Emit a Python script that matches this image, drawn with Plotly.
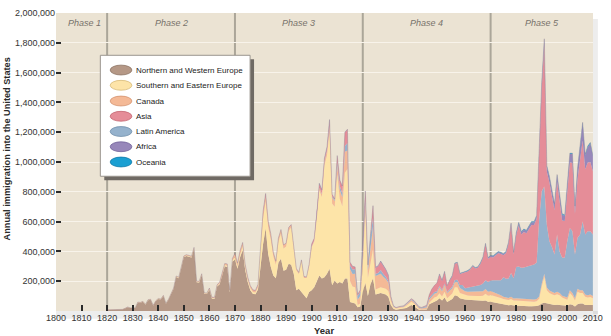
import plotly.graph_objects as go

years = list(range(1820, 2011))

# Annual immigration by region of origin, in thousands
nw_europe = [
    7, 8, 6, 5, 6, 9, 10, 16, 25, 20,
    21, 20, 57, 55, 62, 42, 72, 75, 35, 65,
    81, 77, 101, 49, 75, 110, 149, 228, 220, 289,
    360, 369, 362, 359, 417, 193, 192, 241, 116, 114,
    142, 82, 83, 165, 180, 232, 300, 296, 125, 330,
    345, 283, 360, 410, 275, 195, 140, 115, 112, 145,
    300, 450, 556, 383, 297, 238, 220, 325, 350, 270,
    277, 317, 310, 250, 140, 150, 127, 106, 86, 127,
    139, 160, 194, 238, 218, 227, 250, 284, 172, 205,
    185, 194, 185, 218, 218, 61, 55, 50, 25, 30,
    130, 190, 100, 180, 220, 110, 115, 120, 115, 110,
    95, 40, 15, 9, 11, 13, 13, 20, 30, 40,
    32, 20, 8, 6, 7, 10, 45, 55, 65, 70,
    86, 70, 90, 60, 70, 80, 105, 100, 85, 80,
    78, 76, 74, 72, 70, 70, 68, 68, 70, 62,
    62, 58, 55, 52, 48, 42, 40, 38, 40, 36,
    35, 35, 33, 32, 32, 32, 32, 32, 34, 38,
    50, 55, 50, 45, 42, 40, 42, 40, 35, 32,
    35, 45, 42, 30, 45, 50, 50, 40, 40, 42,
    40,
]
se_europe = [
    0, 0, 0, 0, 0, 0, 0, 1, 1, 1,
    1, 1, 1, 1, 1, 1, 1, 1, 1, 1,
    1, 1, 1, 1, 1, 1, 2, 3, 3, 3,
    3, 3, 3, 3, 4, 3, 3, 4, 3, 3,
    5, 4, 4, 4, 5, 6, 8, 8, 6, 10,
    15, 15, 20, 25, 20, 15, 15, 12, 12, 15,
    115, 170, 180, 180, 185, 130, 90, 140, 170, 150,
    156, 220, 252, 176, 133, 99, 205, 116, 135, 174,
    289, 307, 423, 572, 547, 751, 795, 921, 550, 494,
    732, 560, 518, 710, 735, 141, 109, 110, 15, 20,
    180, 470, 123, 130, 195, 35, 35, 40, 40, 40,
    40, 25, 10, 7, 9, 11, 12, 15, 20, 22,
    18, 12, 5, 3, 3, 4, 10, 20, 25, 28,
    33, 28, 40, 25, 32, 38, 55, 60, 35, 35,
    28, 28, 28, 28, 28, 30, 32, 35, 45, 40,
    45, 45, 45, 42, 40, 38, 36, 35, 40, 34,
    35, 34, 32, 30, 30, 30, 30, 30, 32, 45,
    115, 175, 90, 75, 70, 65, 70, 65, 55, 50,
    40, 75, 60, 40, 85, 70, 70, 55, 50, 52,
    45,
]
canada = [
    1, 1, 1, 1, 1, 1, 1, 1, 1, 1,
    1, 1, 2, 2, 2, 2, 3, 3, 2, 2,
    2, 2, 3, 2, 3, 3, 3, 4, 4, 5,
    6, 6, 6, 6, 6, 4, 4, 5, 3, 3,
    6, 5, 4, 6, 7, 9, 10, 10, 7, 11,
    25, 20, 22, 22, 15, 12, 12, 12, 10, 15,
    35, 40, 35, 35, 32, 25, 22, 23, 25, 22,
    20, 20, 15, 12, 10, 8, 8, 6, 5, 6,
    5, 5, 10, 15, 20, 25, 30, 35, 40, 40,
    60, 60, 60, 140, 125, 80, 85, 90, 35, 50,
    70, 60, 50, 130, 150, 90, 90, 90, 75, 65,
    55, 20, 6, 4, 5, 6, 6, 9, 11, 11,
    11, 11, 9, 8, 10, 12, 22, 25, 25, 25,
    40, 35, 45, 35, 38, 35, 33, 35, 35, 30,
    26, 26, 28, 30, 30, 30, 30, 30, 32, 28,
    28, 25, 22, 20, 18, 15, 15, 15, 15, 14,
    15, 15, 15, 15, 15, 15, 15, 15, 15, 15,
    18, 20, 18, 18, 17, 15, 17, 15, 12, 12,
    15, 19, 18, 15, 20, 20, 19, 15, 15, 16,
    15,
]
latin_america = [
    0, 0, 0, 0, 0, 0, 0, 0, 0, 0,
    0, 0, 0, 0, 0, 0, 0, 0, 0, 0,
    0, 0, 0, 0, 0, 0, 0, 0, 0, 0,
    0, 0, 0, 0, 0, 0, 0, 0, 0, 0,
    0, 0, 0, 0, 0, 0, 0, 0, 0, 0,
    0, 0, 0, 0, 0, 0, 0, 0, 0, 0,
    0, 0, 0, 0, 0, 0, 0, 0, 0, 0,
    0, 0, 0, 0, 0, 0, 0, 0, 0, 0,
    1, 1, 2, 2, 3, 3, 3, 5, 6, 8,
    25, 25, 25, 40, 50, 25, 30, 30, 25, 30,
    35, 25, 25, 65, 60, 15, 15, 25, 20, 15,
    12, 5, 3, 2, 2, 3, 3, 4, 5, 6,
    6, 6, 5, 5, 6, 8, 12, 12, 12, 10,
    10, 8, 10, 8, 10, 12, 15, 15, 20, 30,
    20, 25, 30, 35, 38, 40, 45, 52, 60, 65,
    70, 78, 85, 92, 100, 132, 125, 130, 160, 135,
    210, 215, 210, 215, 220, 225, 230, 235, 245, 520,
    620, 585, 420, 330, 300, 260, 385, 280, 255, 265,
    379, 418, 415, 295, 341, 373, 461, 403, 430, 425,
    413,
]
asia = [
    0, 0, 0, 0, 0, 0, 0, 0, 0, 0,
    0, 0, 0, 0, 0, 0, 0, 0, 0, 0,
    0, 0, 0, 0, 0, 0, 0, 0, 0, 0,
    0, 0, 0, 0, 0, 0, 0, 0, 0, 0,
    1, 1, 1, 1, 1, 1, 1, 2, 1, 2,
    2, 3, 3, 3, 3, 5, 3, 3, 4, 3,
    7, 9, 18, 5, 5, 2, 2, 2, 2, 2,
    2, 3, 3, 2, 3, 2, 3, 3, 3, 5,
    15, 15, 20, 25, 20, 15, 15, 30, 15, 5,
    40, 40, 50, 90, 90, 20, 20, 15, 11, 11,
    15, 60, 12, 15, 80, 40, 45, 55, 52, 45,
    35, 6, 2, 1, 2, 2, 2, 2, 2, 4,
    4, 3, 2, 2, 3, 4, 20, 35, 44, 55,
    74, 61, 76, 39, 54, 69, 109, 112, 74, 81,
    107, 110, 118, 135, 120, 121, 141, 170, 239, 156,
    157, 153, 167, 182, 177, 147, 172, 231, 322, 162,
    211, 277, 224, 238, 224, 244, 271, 266, 291, 442,
    695, 952, 356, 395, 334, 297, 355, 351, 251, 245,
    322, 441, 458, 272, 397, 518, 544, 438, 461, 465,
    425,
]
africa = [
    0, 0, 0, 0, 0, 0, 0, 0, 0, 0,
    0, 0, 0, 0, 0, 0, 0, 0, 0, 0,
    0, 0, 0, 0, 0, 0, 0, 0, 0, 0,
    0, 0, 0, 0, 0, 0, 0, 0, 0, 0,
    0, 0, 0, 0, 0, 0, 0, 0, 0, 0,
    0, 0, 0, 0, 0, 0, 0, 0, 0, 0,
    0, 0, 0, 0, 0, 0, 0, 0, 0, 0,
    0, 0, 0, 0, 0, 0, 0, 0, 0, 0,
    0, 0, 0, 5, 5, 5, 8, 10, 0, 0,
    1, 1, 1, 2, 2, 1, 1, 1, 0, 0,
    1, 0, 0, 3, 2, 4, 4, 5, 5, 5,
    5, 1, 0, 0, 0, 0, 0, 0, 0, 0,
    0, 0, 0, 0, 0, 0, 0, 0, 0, 0,
    5, 3, 4, 2, 3, 3, 4, 4, 3, 4,
    4, 4, 4, 4, 4, 4, 5, 5, 6, 6,
    8, 8, 8, 8, 8, 8, 8, 10, 10, 10,
    14, 15, 16, 16, 17, 18, 18, 18, 20, 25,
    33, 35, 35, 36, 36, 38, 42, 42, 40, 36,
    45, 55, 60, 48, 65, 85, 115, 95, 105, 125,
    100,
]
oceania = [
    0, 0, 0, 0, 0, 0, 0, 0, 0, 0,
    0, 0, 0, 0, 0, 0, 0, 0, 0, 0,
    0, 0, 0, 0, 0, 0, 0, 0, 0, 0,
    0, 0, 0, 0, 0, 0, 0, 0, 0, 0,
    0, 0, 0, 0, 0, 0, 0, 0, 0, 0,
    0, 0, 0, 0, 0, 0, 0, 0, 0, 0,
    0, 0, 0, 0, 0, 0, 0, 0, 0, 0,
    0, 0, 0, 0, 0, 0, 0, 0, 0, 0,
    0, 0, 0, 0, 0, 0, 0, 0, 0, 0,
    0, 0, 0, 0, 0, 0, 0, 0, 0, 0,
    0, 0, 0, 0, 0, 0, 0, 0, 0, 0,
    0, 0, 0, 0, 0, 0, 0, 0, 0, 0,
    0, 0, 0, 0, 0, 0, 0, 0, 0, 0,
    1, 1, 1, 1, 1, 1, 1, 1, 1, 1,
    2, 2, 2, 2, 2, 2, 2, 2, 2, 2,
    3, 3, 3, 3, 3, 3, 3, 3, 3, 3,
    4, 4, 4, 4, 4, 4, 4, 4, 4, 5,
    5, 5, 5, 5, 5, 5, 5, 5, 5, 5,
    5, 6, 6, 4, 5, 6, 7, 6, 6, 6,
    5,
]

series_names = ["Northern and Western Europe", "Southern and Eastern Europe", "Canada",
                "Latin America", "Asia", "Africa", "Oceania"]
series_values = [nw_europe, se_europe, canada, latin_america, asia, africa, oceania]
series_colors = ["#b59886", "#fde4a8", "#f4b996", "#95b2cd", "#e58d98", "#9787ba", "#1a9fd2"]

legend_names = ["Northern and Western Europe", "Southern and Eastern Europe", "Canada",
                "Asia", "Latin America", "Africa", "Oceania"]
legend_colors = ["#b59886", "#fde4a8", "#f4b996", "#e58d98", "#95b2cd", "#9787ba", "#1a9fd2"]
legend_edges = ["#8c7262", "#d8bb7a", "#d49370", "#c46671", "#6f8eab", "#72639a", "#0f7aa8"]

phase_labels = ["Phase 1", "Phase 2", "Phase 3", "Phase 4", "Phase 5"]
phase_centers = [1811, 1845, 1895, 1945, 1990]
phase_bounds = [1820, 1870, 1920, 1970]

x_ticks = list(range(1800, 2011, 10))
y_ticks = list(range(200000, 2000001, 200000))
y_ticktext = [f"{v:,}" for v in y_ticks]

FONT = "Liberation Sans, Arial, sans-serif"

fig = go.Figure()
n_series = len(series_names)
for i, (name, vals, col) in enumerate(zip(series_names, series_values, series_colors)):
    top = i == n_series - 1
    fig.add_trace(go.Scatter(
        x=years, y=[v * 1000 for v in vals], name=name, stackgroup="one",
        mode="lines",
        line=dict(width=0.6 if top else 0, color="rgba(125,112,135,0.55)" if top else col),
        fillcolor=col, showlegend=False, hoverinfo="skip"))

# plot-area geometry in pixels (for legend / decorations)
L0, R0, T0, B0 = 56, 601, 8, 311
W0, H0 = R0 - L0, B0 - T0


def px(x):
    return (x - L0) / W0


def py(y):
    return (B0 - y) / H0


shapes = []
# soft shadow of the plot panel
shapes.append(dict(type="rect", xref="paper", yref="paper", x0=1.0, x1=px(606), y0=py(314), y1=py(14),
                   fillcolor="rgba(0,0,0,0.07)", line=dict(width=0), layer="below"))
shapes.append(dict(type="rect", xref="paper", yref="paper", x0=px(L0), x1=px(606), y0=py(319), y1=0,
                   fillcolor="rgba(0,0,0,0.07)", line=dict(width=0), layer="below"))
# phase boundary lines
for yr in phase_bounds:
    shapes.append(dict(type="line", xref="x", yref="paper", x0=yr, x1=yr, y0=0, y1=1,
                       line=dict(color="#aba699", width=2), layer="below"))
# legend box with shadow
shapes.append(dict(type="rect", xref="paper", yref="paper", x0=px(105), x1=px(257), y0=py(178), y1=py(55),
                   fillcolor="#6f6a64", line=dict(width=0)))
shapes.append(dict(type="rect", xref="paper", yref="paper", x0=px(101), x1=px(253), y0=py(174), y1=py(51),
                   fillcolor="white", line=dict(color="#9a958e", width=1)))
item_y = [66, 81.5, 97.5, 113, 128.5, 144, 159.5]
annotations = []
for name, col, edge, yy in zip(legend_names, legend_colors, legend_edges, item_y):
    shapes.append(dict(type="circle", xref="paper", yref="paper", x0=px(111), x1=px(133),
                       y0=py(yy + 5), y1=py(yy - 5), fillcolor=col, line=dict(color=edge, width=0.8)))
    annotations.append(dict(text=name, xref="paper", yref="paper", x=px(135.5), y=py(yy),
                            xanchor="left", yanchor="middle", showarrow=False,
                            font=dict(family=FONT, size=8, color="#222222")))

for lab, cx in zip(phase_labels, phase_centers):
    annotations.append(dict(text=f"<i>{lab}</i>", xref="x", yref="paper", x=cx, y=py(18),
                            xanchor="center", yanchor="middle", showarrow=False,
                            font=dict(family=FONT, size=9, color="#77726b")))

annotations.append(dict(text="<b>Annual immigration into the United States</b>", xref="paper", yref="paper",
                        x=px(6), y=py(146), textangle=-90, showarrow=False, xanchor="center", yanchor="middle",
                        font=dict(family=FONT, size=9.2, color="#2a2a2a")))
annotations.append(dict(text="<b>Year</b>", xref="paper", yref="paper", x=px(328), y=py(331),
                        showarrow=False, xanchor="center", yanchor="middle",
                        font=dict(family=FONT, size=9.5, color="#2a2a2a")))

fig.update_layout(
    width=611, height=336,
    margin=dict(l=L0, r=611 - R0, t=T0, b=336 - B0),
    paper_bgcolor="white", plot_bgcolor="#ebe3d3",
    font=dict(family=FONT, size=9, color="#333333"),
    showlegend=False,
    xaxis=dict(range=[1800, 2010.05], tickmode="array", tickvals=x_ticks, ticks="inside", ticklen=6,
               tickwidth=1.5, tickcolor="#2a2a2a", showgrid=False, zeroline=False, showline=False,
               tickfont=dict(family=FONT, size=9, color="#333333")),
    yaxis=dict(range=[0, 2000000], tickmode="array", tickvals=y_ticks, ticktext=y_ticktext,
               ticks="inside", ticklen=5, tickwidth=1.5, tickcolor="#2a2a2a",
               showgrid=True, gridcolor="#f8f3ea", gridwidth=1, zeroline=False, showline=False,
               tickfont=dict(family=FONT, size=9, color="#333333")),
    shapes=shapes, annotations=annotations,
)

fig.write_html("out.html")
